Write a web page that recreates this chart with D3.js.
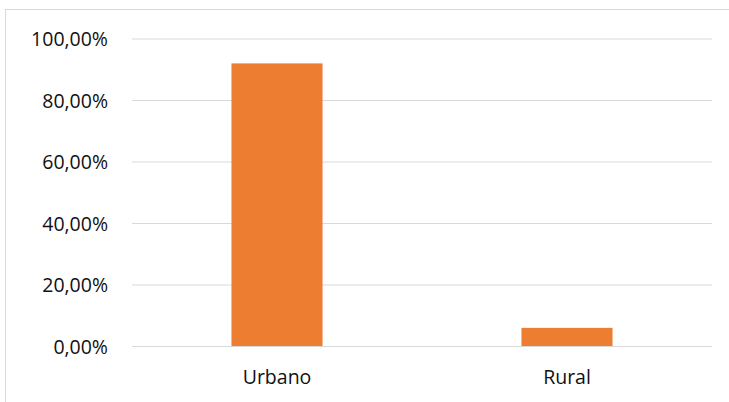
<!DOCTYPE html>
<html><head><meta charset="utf-8">
<script src="https://cdn.jsdelivr.net/npm/d3@7"></script>
<style>body{margin:0;background:#fff}svg{display:block}</style>
</head><body>
<script>
const categories = ["Urbano", "Rural"];
const values = [0.919, 0.059];
const yTicks = [0, 0.2, 0.4, 0.6, 0.8, 1.0];

const W = 729, H = 402;
const svg = d3.select("body").append("svg").attr("width", W).attr("height", H);
const font = "'Open Sans', sans-serif";

// chart border
svg.append("rect").attr("x", 5.5).attr("y", 9.5).attr("width", 740).attr("height", 420)
  .attr("fill", "none").attr("stroke", "#d9d9d9").attr("stroke-width", 1);

const x = d3.scaleBand().domain(categories).range([132, 712]).paddingInner(0.686).paddingOuter(0.343);
const y = d3.scaleLinear().domain([0, 1]).range([346, 38.5]);

const fmt = v => d3.format(".2f")(v * 100).replace(".", ",") + "%";

const yAxis = d3.axisLeft(y).tickValues(yTicks).tickSize(-(712 - 132)).tickFormat(fmt).tickPadding(24);
const gy = svg.append("g").attr("transform", "translate(132,0)").call(yAxis);
gy.select(".domain").remove();
gy.selectAll(".tick line").attr("stroke", "#d9d9d9").attr("stroke-width", 1);
gy.selectAll(".tick text").attr("font-family", font).attr("font-size", 19.5).attr("fill", "#111")
  .attr("dy", "0.38em");

svg.selectAll("rect.bar").data(values).join("rect").attr("class", "bar")
  .attr("x", (d, i) => x(categories[i]))
  .attr("width", x.bandwidth())
  .attr("y", d => y(d))
  .attr("height", d => y(0) - y(d))
  .attr("fill", "#ED7D31");

const xAxis = d3.axisBottom(x).tickSize(0).tickPadding(24);
const gx = svg.append("g").attr("transform", "translate(0,346)").call(xAxis);
gx.select(".domain").remove();
gx.selectAll(".tick text").attr("font-family", font).attr("font-size", 19.5).attr("fill", "#111");
</script>
</body></html>
